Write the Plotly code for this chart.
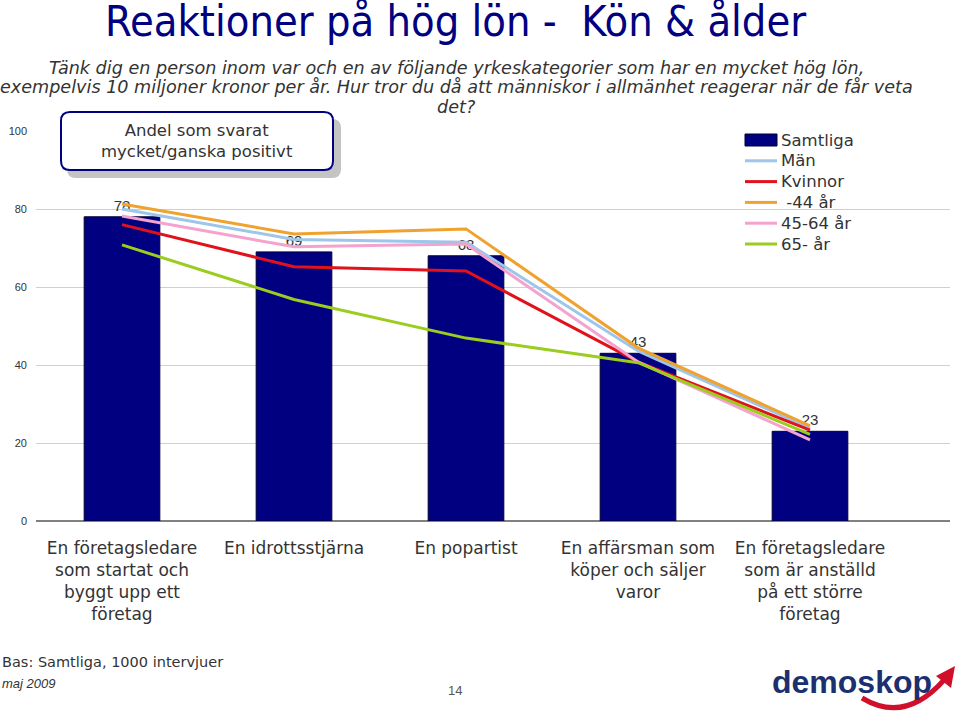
import plotly.graph_objects as go

# ---------------- data ----------------
categories = [
    "En företagsledare<br>som startat och<br>byggt upp ett<br>företag",
    "En idrottsstjärna",
    "En popartist",
    "En affärsman som<br>köper och säljer<br>varor",
    "En företagsledare<br>som är anställd<br>på ett större<br>företag",
]
samtliga = [78, 69, 68, 43, 23]
man = [80.0, 72.2, 71.5, 43.6, 23.8]
kvinnor = [76.0, 65.2, 64.1, 40.8, 23.3]
upp_44 = [81.3, 73.6, 74.9, 44.4, 24.4]
ar_45_64 = [78.2, 70.3, 71.0, 40.8, 20.8]
over_65 = [70.8, 56.8, 46.9, 40.6, 22.2]

bar_name = "Samtliga"
series_names = ["Män", "Kvinnor", " -44 år", "45-64 år", "65- år"]
series_values = [man, kvinnor, upp_44, ar_45_64, over_65]
series_colors = ["#9dc6ea", "#e0121c", "#f0a22e", "#f4a3cf", "#9acd1e"]

y_ticks = [0, 20, 40, 60, 80, 100]

subtitle_lines = [
    "Tänk dig en person inom var och en av följande yrkeskategorier som har en mycket hög lön,",
    "exempelvis 10 miljoner kronor per år. Hur tror du då att människor i allmänhet reagerar när de får veta",
    "det?",
]

# ---------------- layout helpers (page pixels -> paper) ----------------
W, H = 960, 716
PLOT_LEFT, PLOT_RIGHT, PLOT_TOP, PLOT_BOTTOM = 36, 950, 131, 521
L, T = PLOT_LEFT, PLOT_TOP
R, B = W - PLOT_RIGHT, H - PLOT_BOTTOM
PW = PLOT_RIGHT - PLOT_LEFT
PH = PLOT_BOTTOM - PLOT_TOP


def px(x):
    return (x - PLOT_LEFT) / PW


def py(y):
    return (PLOT_BOTTOM - y) / PH


NAVY = "#000080"
TXT = "#333333"
FONT = "Liberation Sans, Arial, sans-serif"
WIDE = "DejaVu Sans, sans-serif"

fig = go.Figure()

fig.add_trace(go.Bar(
    x=categories, y=samtliga, name=bar_name,
    marker=dict(color=NAVY, line=dict(color="#000033", width=1)),
    width=0.44,
    text=[str(v) for v in samtliga], textposition="outside",
    textfont=dict(size=15, color=TXT, family=FONT),
    cliponaxis=False, showlegend=False,
))

for name, vals, col in zip(series_names, series_values, series_colors):
    fig.add_trace(go.Scatter(
        x=categories, y=vals, name=name, mode="lines",
        line=dict(color=col, width=3), showlegend=False,
    ))

cat_w = 172.0
right_units = PW / cat_w - 0.5

fig.update_layout(
    width=W, height=H,
    margin=dict(l=L, r=R, t=T, b=B, autoexpand=False),
    paper_bgcolor="white", plot_bgcolor="white",
    font=dict(family=FONT, color=TXT),
    showlegend=False,
    xaxis=dict(
        type="category", range=[-0.5, right_units],
        showgrid=False, zeroline=False, showline=False,
        ticks="", tickangle=0, automargin=False,
        tickfont=dict(size=17, color=TXT, family=WIDE),
        ticklabelstandoff=15,
    ),
    yaxis=dict(
        range=[0, 100], tickvals=y_ticks, automargin=False,
        showgrid=True, gridcolor="#d0d0d0", gridwidth=1,
        zeroline=True, zerolinecolor="#808080", zerolinewidth=1.5,
        showline=False, ticks="",
        tickfont=dict(size=11, color=TXT, family=FONT),
        ticklabelstandoff=8,
    ),
    bargap=0.56,
)

annotations = []
shapes = []

# Title
annotations.append(dict(
    xref="paper", yref="paper", x=px(455), y=py(21), xanchor="center", yanchor="middle",
    text="Reaktioner på hög lön -  Kön & ålder", showarrow=False,
    font=dict(size=43, color=NAVY, family="Liberation Sans Narrow, DejaVu Sans Condensed, sans-serif"),
))
# Subtitle (one annotation per line for exact spacing)
for i, line in enumerate(subtitle_lines):
    annotations.append(dict(
        xref="paper", yref="paper", x=px(456), y=py(68 + 19.5 * i), xanchor="center", yanchor="middle",
        text=f"<i>{line}</i>", showarrow=False,
        font=dict(size=17.6, color=TXT, family=WIDE),
    ))

# Legend (built from the series names / colours)
leg_x0, leg_x1, leg_tx = 745, 777, 779
leg_y0, leg_dy = 140, 20.8
shapes.append(dict(type="rect", xref="paper", yref="paper",
                   x0=px(leg_x0), x1=px(leg_x1), y0=py(leg_y0 - 6), y1=py(leg_y0 + 6),
                   fillcolor=NAVY, line=dict(color="#000033", width=1)))
annotations.append(dict(
    xref="paper", yref="paper", x=px(leg_tx), y=py(leg_y0), xanchor="left", yanchor="middle",
    text=bar_name, showarrow=False, font=dict(size=16.5, color=TXT, family=WIDE),
))
for i, (name, col) in enumerate(zip(series_names, series_colors)):
    yy = leg_y0 + leg_dy * (i + 1)
    shapes.append(dict(type="line", xref="paper", yref="paper",
                       x0=px(leg_x0), x1=px(leg_x1), y0=py(yy), y1=py(yy),
                       line=dict(color=col, width=3)))
    annotations.append(dict(
        xref="paper", yref="paper", x=px(leg_tx), y=py(yy), xanchor="left", yanchor="middle",
        text=name, showarrow=False, font=dict(size=16.5, color=TXT, family=WIDE),
    ))


def rounded_rect(x0, y0, x1, y1, r):
    X = px
    Y = py
    return (f"M {X(x0 + r)},{Y(y0)} L {X(x1 - r)},{Y(y0)} Q {X(x1)},{Y(y0)} {X(x1)},{Y(y0 + r)} "
            f"L {X(x1)},{Y(y1 - r)} Q {X(x1)},{Y(y1)} {X(x1 - r)},{Y(y1)} "
            f"L {X(x0 + r)},{Y(y1)} Q {X(x0)},{Y(y1)} {X(x0)},{Y(y1 - r)} "
            f"L {X(x0)},{Y(y0 + r)} Q {X(x0)},{Y(y0)} {X(x0 + r)},{Y(y0)} Z")


shapes.append(dict(type="path", xref="paper", yref="paper",
                   path=rounded_rect(67, 119, 341, 178, 9),
                   fillcolor="#c4c4c4", line=dict(width=0), layer="above"))
shapes.append(dict(type="path", xref="paper", yref="paper",
                   path=rounded_rect(61, 112, 333, 170, 9),
                   fillcolor="white", line=dict(color=NAVY, width=2), layer="above"))
annotations.append(dict(
    xref="paper", yref="paper", x=px(197), y=py(141), xanchor="center", yanchor="middle",
    text="Andel som svarat<br>mycket/ganska positivt", showarrow=False, align="center",
    font=dict(size=16.5, color=TXT, family=WIDE),
))

# Footer texts
annotations.append(dict(
    xref="paper", yref="paper", x=px(0), y=py(662), xanchor="left", yanchor="middle",
    text="Bas: Samtliga, 1000 intervjuer", showarrow=False,
    font=dict(size=14.5, color=TXT, family=WIDE),
))
annotations.append(dict(
    xref="paper", yref="paper", x=px(0), y=py(683), xanchor="left", yanchor="middle",
    text="<i>maj 2009</i>", showarrow=False,
    font=dict(size=13, color=TXT, family=FONT),
))
annotations.append(dict(
    xref="paper", yref="paper", x=px(455), y=py(690), xanchor="center", yanchor="middle",
    text="14", showarrow=False,
    font=dict(size=13, color="#555555", family=FONT),
))
# Logo
annotations.append(dict(
    xref="paper", yref="paper", x=px(852), y=py(682), xanchor="center", yanchor="middle",
    text="<b>demoskop</b>", showarrow=False,
    font=dict(size=32, color="#1c2f6e", family=FONT),
))
shapes.append(dict(type="path", xref="paper", yref="paper",
                   path=f"M {px(862)},{py(698)} Q {px(905)},{py(724)} {px(944)},{py(680)}",
                   line=dict(color="#d0102a", width=5), layer="above"))
shapes.append(dict(type="path", xref="paper", yref="paper",
                   path=f"M {px(936)},{py(676)} L {px(955)},{py(666)} L {px(951)},{py(688)} Z",
                   fillcolor="#d0102a", line=dict(width=0), layer="above"))

fig.update_layout(annotations=annotations, shapes=shapes)

fig.write_html(
    "out.html",
    config={"displayModeBar": False},
    post_script="document.body.style.margin='0';document.body.style.padding='0';",
)
